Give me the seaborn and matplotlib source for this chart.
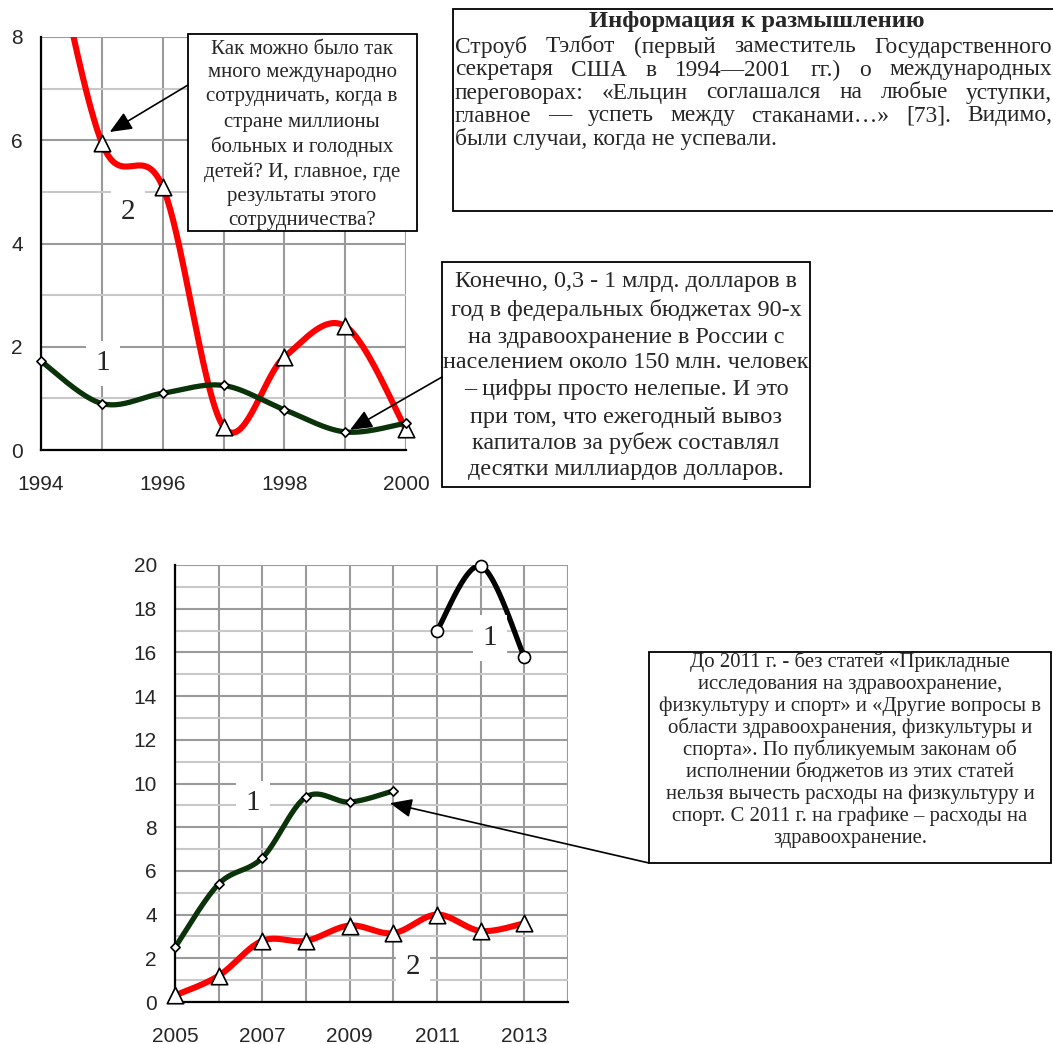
import numpy as np
import pandas as pd
import matplotlib
matplotlib.use("Agg")
import matplotlib.pyplot as plt
import seaborn as sns
from matplotlib.patches import Rectangle

# ---- data ----
years_90s = [1994, 1995, 1996, 1997, 1998, 1999, 2000]
line1_90s = [1.72, 0.90, 1.10, 1.25, 0.78, 0.35, 0.52]
line2_90s = [11.0, 5.95, 5.10, 0.45, 1.80, 2.40, 0.40]

years_1_00s = [2005, 2006, 2007, 2008, 2009, 2010]
line1_00s = [2.5, 5.4, 6.6, 9.38, 9.15, 9.66]
years_1b_00s = [2011, 2012, 2013]
line1b_00s = [17.0, 19.95, 15.8]
years_2_00s = [2005, 2006, 2007, 2008, 2009, 2010, 2011, 2012, 2013]
line2_00s = [0.3, 1.2, 2.8, 2.8, 3.5, 3.15, 4.0, 3.25, 3.6]

RED = "#ff0000"
GREEN = "#0a330a"
SERIF = "Liberation Serif"


def smooth(xs, ys, n=40):
    # Excel style smoothed line (Catmull-Rom through the points)
    p = np.column_stack([xs, ys]).astype(float)
    p = np.vstack([p[0], p, p[-1]])
    t = np.linspace(0, 1, n)[:, None]
    out = []
    for i in range(1, len(p) - 2):
        p0, p1, p2, p3 = p[i - 1], p[i], p[i + 1], p[i + 2]
        seg = 0.5 * (2 * p1 + (p2 - p0) * t + (2 * p0 - 5 * p1 + 4 * p2 - p3) * t ** 2
                     + (3 * p1 - p0 - 3 * p2 + p3) * t ** 3)
        out.append(seg if i == 1 else seg[1:])
    c = np.vstack(out)
    return c[:, 0], c[:, 1]


sns.set_style("white")
plt.rcParams["font.family"] = ["Liberation Sans", "DejaVu Sans"]

W, H = 1053, 1044
fig = plt.figure(figsize=(W / 100, H / 100), dpi=100)


def px_axes(x0, y0, x1, y1):
    return fig.add_axes([x0 / W, 1 - y1 / H, (x1 - x0) / W, (y1 - y0) / H])


def style_axes(ax, xs, labeled, ymax):
    ax.set_xlim(xs[0], xs[-1])
    ax.set_ylim(0, ymax)
    ax.set_xticks(xs)
    ax.set_xticklabels([str(v) if v in labeled else "" for v in xs])
    ax.set_yticks(np.arange(0, ymax + 1, 2))
    ax.set_yticks(np.arange(1, ymax, 2), minor=True)
    ax.grid(True, which="major", color="#9a9a9a", lw=1.5)
    ax.grid(True, which="minor", axis="y", color="#c8c8c8", lw=1.5)
    ax.set_axisbelow(True)
    for s in ["top", "right"]:
        ax.spines[s].set_visible(False)
    for s in ["left", "bottom"]:
        ax.spines[s].set_color("black")
        ax.spines[s].set_linewidth(1.6)
    ax.tick_params(which="major", length=6, width=1.4, color="black", labelsize=15, pad=7)
    ax.tick_params(which="minor", length=0)
    ax.tick_params(axis="x", pad=12)


def draw_series(ax, xs, ys, color, lw, marker, s, z, ymax):
    cx, cy = smooth(xs, ys)
    sns.lineplot(x=cx, y=cy, ax=ax, color=color, lw=lw, sort=False, estimator=None, zorder=z)
    pts = pd.DataFrame({"x": xs, "y": ys})
    pts = pts[pts.y <= ymax]
    sns.scatterplot(data=pts, x="x", y="y", ax=ax, marker=marker, s=s, color="white",
                    edgecolor="black", linewidth=1.2, zorder=z + 5, clip_on=False)
    ax.set_xlabel("")
    ax.set_ylabel("")


def num_label(ax, x, y, txt):
    ax.text(x, y, txt, family=SERIF, fontsize=21, ha="center", va="center", zorder=4,
            bbox=dict(fc="white", ec="none", pad=7))


# ---- top chart (1994-2000) ----
ax1 = px_axes(41, 37, 406, 450)
style_axes(ax1, list(range(1994, 2001)), [1994, 1996, 1998, 2000], 8)
draw_series(ax1, years_90s, line2_90s, RED, 4.4, "^", 140, 3, 8)
draw_series(ax1, years_90s, line1_90s, GREEN, 3.8, "D", 22, 4, 8)
num_label(ax1, 1995.02, 1.68, "1")
num_label(ax1, 1995.43, 4.61, "2")

# ---- bottom chart (2005-2014) ----
ax2 = px_axes(175, 565, 568, 1002)
style_axes(ax2, list(range(2005, 2015)), [2005, 2007, 2009, 2011, 2013], 20)
draw_series(ax2, years_2_00s, line2_00s, RED, 4.4, "^", 140, 3, 20)
draw_series(ax2, years_1_00s, line1_00s, GREEN, 3.8, "D", 22, 4, 20)
draw_series(ax2, years_1b_00s, line1b_00s, "black", 3.8, "o", 75, 4, 20.5)
num_label(ax2, 2006.79, 9.1, "1")
num_label(ax2, 2010.45, 1.6, "2")
num_label(ax2, 2012.21, 16.66, "1")

# ---- overlay in pixel coordinates for the text boxes ----
ov = fig.add_axes([0, 0, 1, 1])
ov.set_xlim(0, W)
ov.set_ylim(H, 0)
ov.axis("off")
ov.set_zorder(10)
ov.patch.set_visible(False)
renderer = fig.canvas.get_renderer()


def text_width(txt, size, weight="normal"):
    t = ov.text(0, 0, txt, family=SERIF, fontsize=size, weight=weight)
    w = t.get_window_extent(renderer).width
    t.remove()
    return w


def fit_size(txt, target, weight="normal"):
    return 10 * target / text_width(txt, 10, weight)


def box(x0, y0, x1, y1):
    ov.add_patch(Rectangle((x0, y0), x1 - x0, y1 - y0, fc="white", ec="black", lw=1.3, zorder=1))


def centered_lines(lines, cx, ys, size):
    for ln, y in zip(lines, ys):
        ov.text(cx, y, ln, family=SERIF, fontsize=size, ha="center", va="center", zorder=2)


def arrow(tail, tip, ax):
    ov.annotate("", xy=tip, xycoords=ax.transData, xytext=tail, textcoords=ov.transData,
                annotation_clip=False, zorder=3,
                arrowprops=dict(arrowstyle="-|>,head_length=0.75,head_width=0.32",
                                mutation_scale=18, color="black", lw=1.2,
                                shrinkA=0, shrinkB=0))


# box 1
box1_lines = ["Как можно было так", "много международно", "сотрудничать, когда в",
              "стране миллионы", "больных и голодных", "детей? И, главное, где",
              "результаты этого", "сотрудничества?"]
box(188, 34, 417, 231)
centered_lines(box1_lines, 302, [50, 73, 97, 122, 147, 172, 196, 220],
               fit_size(box1_lines[5], 196))
arrow((188, 85), (1995.13, 6.16), ax1)

# box 2
box2_lines = ["Конечно, 0,3 - 1 млрд. долларов в", "год в федеральных бюджетах 90-х",
              "на здравоохранение в России с", "населением около 150 млн. человек",
              "– цифры просто нелепые. И это", "при том, что ежегодный вывоз",
              "капиталов за рубеж составлял", "десятки миллиардов долларов."]
box(442, 262, 810, 487)
centered_lines(box2_lines, 626, [282, 310, 337, 363, 390, 417, 443, 470],
               fit_size(box2_lines[3], 366))
arrow((442, 377), (1999.08, 0.39), ax1)

# box 3
box3_lines = ["До 2011 г. - без статей «Прикладные", "исследования на здравоохранение,",
              "физкультуру и спорт» и «Другие вопросы в", "области здравоохранения, физкультуры и",
              "спорта». По публикуемым законам об", "исполнении бюджетов из этих статей",
              "нельзя вычесть расходы на физкультуру и", "спорт. С 2011 г. на графике – расходы на",
              "здравоохранение."]
box(649, 652, 1051, 863)
centered_lines(box3_lines, 850, [662, 684, 706, 728, 750, 772, 794, 816, 838],
               fit_size(box3_lines[2], 385))
arrow((649, 863), (2009.92, 9.1), ax2)

# info box with justified text
info_title = "Информация к размышлению"
info_lines = ["Строуб Тэлбот (первый заместитель Государственного",
              "секретаря США в 1994—2001 гг.) о международных",
              "переговорах:  «Ельцин соглашался на любые уступки,",
              "главное — успеть между стаканами…» [73]. Видимо,",
              "были случаи, когда не успевали."]
box(453, 9, 1070, 211)
ov.text(757, 22, info_title, family=SERIF, weight="bold", ha="center", va="center",
        fontsize=fit_size(info_title, 336, "bold"))
info_size = fit_size(info_lines[-1], 322)
left, right = 455, 1052
for i, (ln, y) in enumerate(zip(info_lines, [47, 70, 93, 116, 139])):
    words = ln.split()
    if i == len(info_lines) - 1:
        ov.text(left, y, ln, family=SERIF, fontsize=info_size, ha="left", va="center")
        continue
    widths = [text_width(w, info_size) for w in words]
    gap = (right - left - sum(widths)) / (len(words) - 1)
    x = left
    for w, wd in zip(words, widths):
        ov.text(x, y, w, family=SERIF, fontsize=info_size, ha="left", va="center")
        x += wd + gap

fig.savefig("out.png", dpi=100)
